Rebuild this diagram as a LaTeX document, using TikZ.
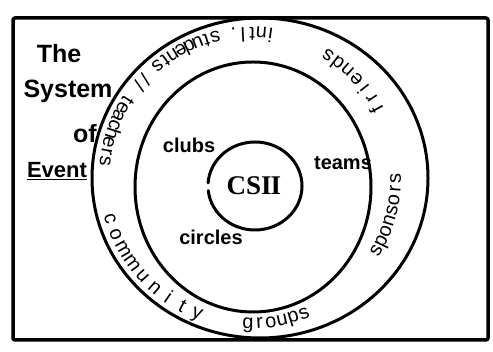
\documentclass[tikz,border=0pt]{standalone}
\usepackage{fontspec}
\setmainfont{Liberation Sans}
\newfontfamily\csfont{Liberation Serif}
\begin{document}
\begin{tikzpicture}[x=1pt,y=1pt,
  ink/.style={line width=3pt, line cap=round, line join=round},
  titletext/.style={font=\bfseries\fontsize{25}{25}\selectfont, anchor=base},
  labeltext/.style={font=\bfseries\fontsize{20}{20}\selectfont, anchor=base},
  ringchar/.style={font=\fontsize{20}{20}\selectfont, anchor=base, inner sep=0pt}
]
\useasboundingbox (0,0) rectangle (493,352);
\fill[white] (0,0) rectangle (493,352);
% frame
\draw[ink, line width=3.5pt, rounded corners=2pt] (13,12) rectangle (488,334);
% circles
\draw[ink] (260,174) ellipse[x radius=168, y radius=160];
\draw[ink] (253,165) ellipse[x radius=118, y radius=125];
\draw[ink] ([shift={(255,166)}]186:47 and 44) arc[start angle=186, end angle=536, x radius=47, y radius=44];
% title
\node[titletext] (the) at (59,289) {The};
\node[titletext] (system) at (68,254) {System};
\node[titletext] (of) at (85,209) {of};
\node[titletext, font=\bfseries\fontsize{22}{22}\selectfont] (event) at (57,174) {\underline{Event}};
% inner labels
\node[labeltext] (clubs) at (189,199) {clubs};
\node[labeltext] (teams) at (343,182) {teams};
\node[labeltext] (circles) at (211,107) {circles};
\node[anchor=base, font=\csfont\bfseries\fontsize{27}{27}\selectfont] (cs) at (254,157) {CSI\kern-1pt I};
% ring texts: letters placed counterclockwise along a circle, tops toward the centre
\coordinate (rc) at (250,174);
\foreach \ch [count=\i, evaluate=\i as \a using {26+(\i-0.5)*34/7}] in {f,r,i,e,n,d,s}
  \node[ringchar, rotate=\a+90] (fr\i) at ([shift={(rc)}]\a:151) {\ch};
\foreach \ch [count=\i, evaluate=\i as \a using {80+(\i-0.5)*95/26}] in {i,n,t,l,.,{},s,t,u,d,e,n,t,s,{},/,/,{},t,e,a,c,h,e,r,s}
  \node[ringchar, rotate=\a+90] (st\i) at ([shift={(rc)}]\a:151) {\ch};
\foreach \ch [count=\i, evaluate=\i as \a using {-32+(\i-0.5)*34/8}] in {s,p,o,n,s,o,r,s}
  \node[ringchar, rotate=\a+90] (sp\i) at ([shift={(rc)}]\a:151) {\ch};
\foreach \ch [count=\i, evaluate=\i as \a using {-93+(\i-0.5)*27/6}] in {g,r,o,u,p,s}
  \node[ringchar, rotate=\a+90] (gr\i) at ([shift={(rc)}]\a:151) {\ch};
\foreach \ch [count=\i, evaluate=\i as \a using {193+(\i-0.5)*59/9}] in {c,o,m,m,u,n,i,t,y}
  \node[ringchar, rotate=\a+90] (co\i) at ([shift={(rc)}]\a:151) {\ch};
\end{tikzpicture}
\end{document}
